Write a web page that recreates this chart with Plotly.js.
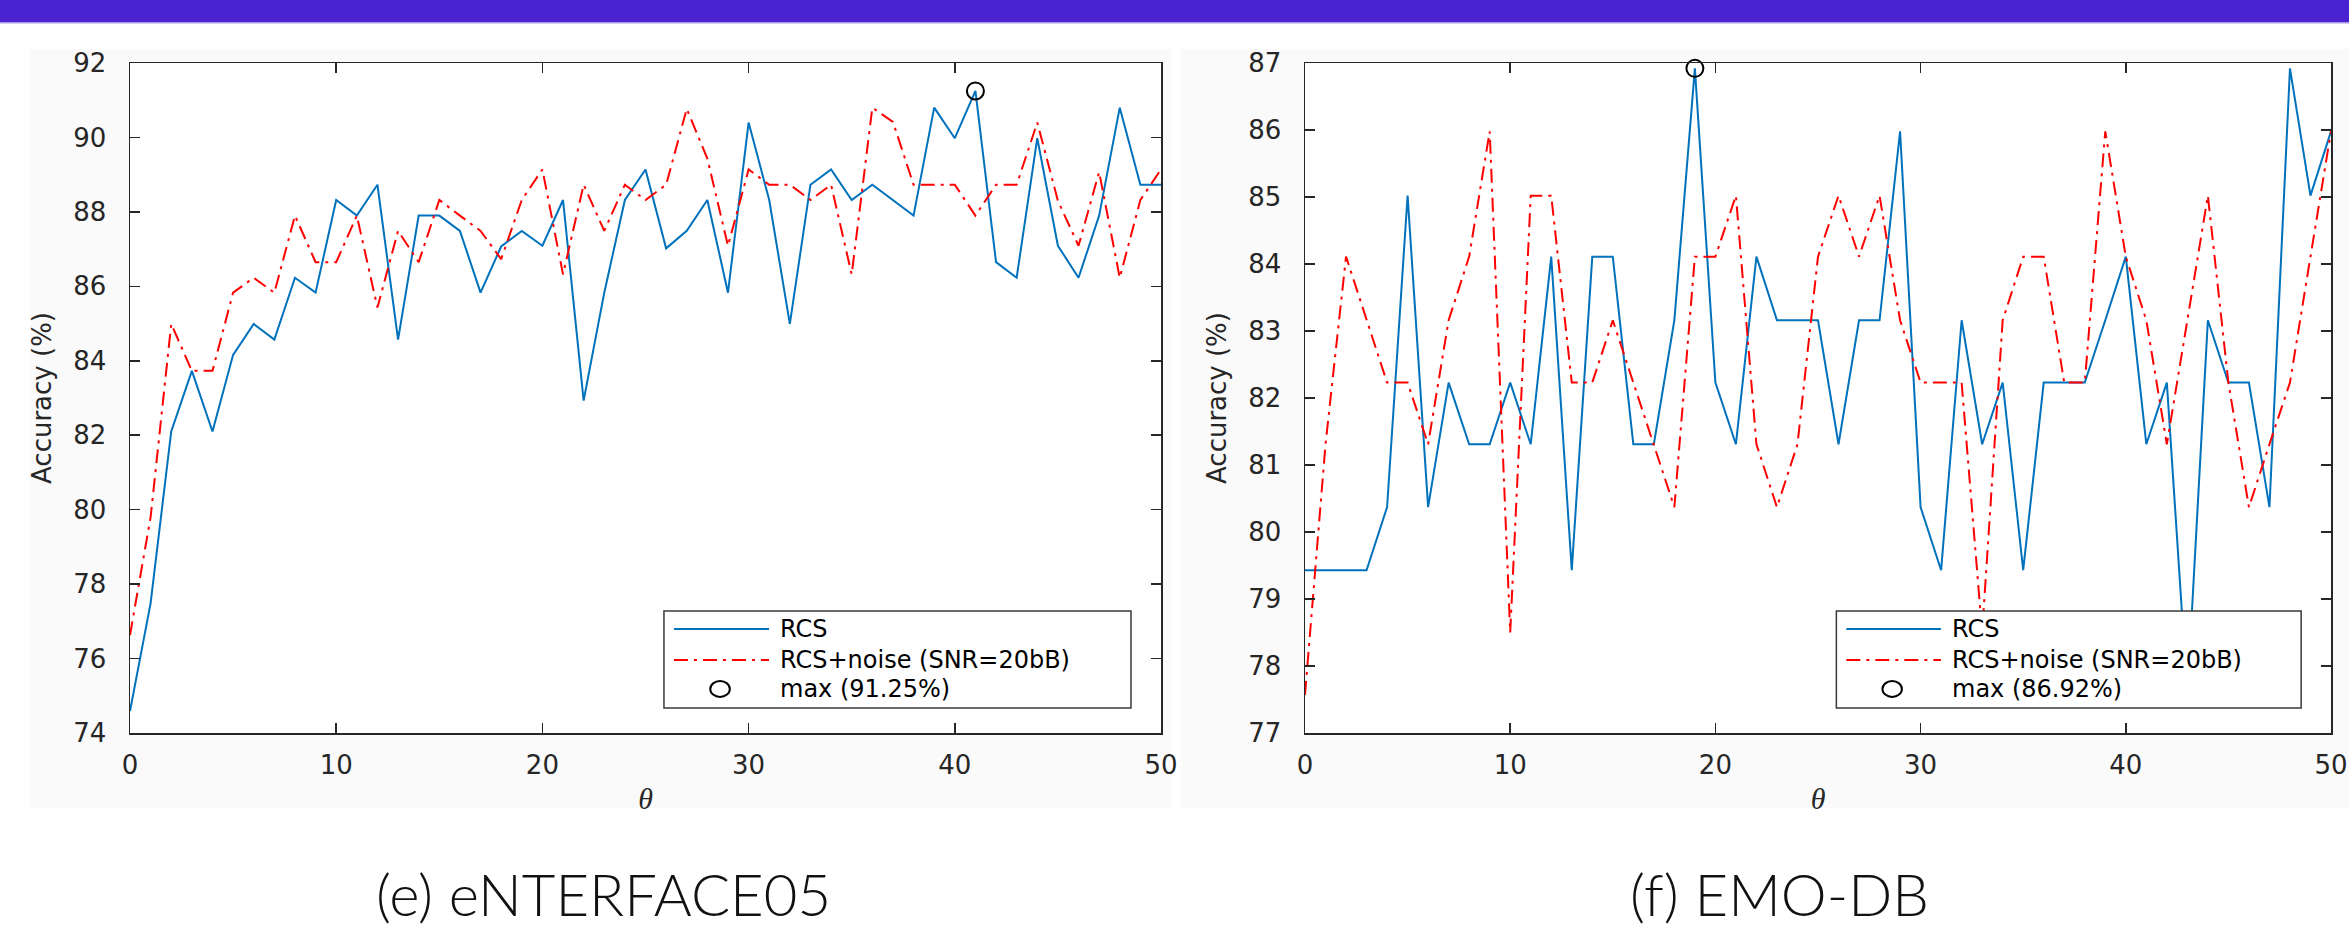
<!DOCTYPE html>
<html>
<head>
<meta charset="utf-8">
<script src="https://cdn.plot.ly/plotly-3.0.1.min.js"></script>
<style>
  html, body { margin: 0; padding: 0; background: #ffffff; }
  #chart { width: 2349px; height: 927px; }
</style>
</head>
<body>
<div id="chart"></div>
<script>
// ---------- data ----------
const theta = [0,1,2,3,4,5,6,7,8,9,10,11,12,13,14,15,16,17,18,19,20,21,22,23,24,25,26,27,28,29,30,31,32,33,34,35,36,37,38,39,40,41,42,43,44,45,46,47,48,49,50];

// (e) eNTERFACE05
const enterfaceRCS = [74.59,77.49,82.10,83.73,82.10,84.16,84.99,84.57,86.23,85.83,
  88.32,87.90,88.73,84.57,87.90,87.90,87.49,85.83,87.07,87.49,
  87.09,88.32,82.93,85.83,88.32,89.14,87.02,87.49,88.32,85.83,
  90.40,88.32,84.99,88.73,89.14,88.32,88.73,88.32,87.90,90.80,
  89.98,91.25,86.65,86.23,89.98,87.09,86.23,87.90,90.80,88.73,88.73];
const enterfaceNoise = [76.63,79.80,84.99,83.73,83.73,85.83,86.23,85.83,87.90,86.65,
  86.65,87.90,85.43,87.49,86.65,88.32,87.90,87.49,86.73,88.32,
  89.14,86.32,88.73,87.49,88.73,88.32,88.73,90.77,89.43,87.09,
  89.14,88.73,88.73,88.32,88.73,86.32,90.80,90.42,88.73,88.73,
  88.73,87.90,88.73,88.73,90.40,88.30,87.09,89.07,86.23,88.32,89.14];
const enterfaceMaxTheta = [41];
const enterfaceMaxAcc = [91.25];

// (f) EMO-DB
const emodbRCS = [79.43,79.43,79.43,79.43,80.37,85.02,80.37,82.23,81.31,81.31,
  82.23,81.31,84.11,79.43,84.11,84.11,81.31,81.31,83.16,86.92,
  82.23,81.31,84.11,83.16,83.16,83.16,81.31,83.16,83.16,85.98,
  80.37,79.43,83.16,81.31,82.23,79.43,82.23,82.23,82.23,83.16,
  84.11,81.31,82.23,77.57,83.16,82.23,82.23,80.37,86.92,85.02,85.98];
const emodbNoise = [77.57,81.31,84.11,83.16,82.23,82.23,81.31,83.16,84.11,85.98,
  78.50,85.02,85.02,82.23,82.23,83.16,82.23,81.31,80.37,84.11,
  84.11,85.02,81.31,80.37,81.31,84.11,85.02,84.11,85.02,83.16,
  82.23,82.23,82.23,78.50,83.16,84.11,84.11,82.23,82.23,85.98,
  84.11,83.16,81.31,83.16,85.02,82.23,80.37,81.31,82.23,84.11,85.98];
const emodbMaxTheta = [19];
const emodbMaxAcc = [86.92];

const xTickVals = [0,10,20,30,40,50];
const enterfaceYTicks = [74,76,78,80,82,84,86,88,90,92];
const emodbYTicks = [77,78,79,80,81,82,83,84,85,86,87];

const seriesNames = ['RCS', 'RCS+noise (SNR=20bB)'];
const maxLabels = ['max (91.25%)', 'max (86.92%)'];
const captions = ['(e) eNTERFACE05', '(f) EMO-DB'];

// ---------- styles ----------
const BLUE = '#0072BD';
const RED = '#FF0000';
const AXC = '#262626';
const DASHDOT = '14px,6px,3px,6px';
const SANS = 'DejaVu Sans, Liberation Sans, Arial, sans-serif';

function lineTrace(y, xa, ya, color, dash, name) {
  return { x: theta, y: y, xaxis: xa, yaxis: ya, type: 'scatter', mode: 'lines',
    name: name, line: { color: color, width: 2, dash: dash }, showlegend: false,
    hoverinfo: 'x+y' };
}
function maxTrace(x, y, xa, ya, name) {
  return { x: x, y: y, xaxis: xa, yaxis: ya, type: 'scatter', mode: 'markers',
    name: name, marker: { symbol: 'circle-open', size: 17, color: '#000000', line: { width: 2, color: '#000000' } },
    showlegend: false, cliponaxis: false };
}

const data = [
  lineTrace(enterfaceRCS, 'x', 'y', BLUE, 'solid', seriesNames[0]),
  lineTrace(enterfaceNoise, 'x', 'y', RED, DASHDOT, seriesNames[1]),
  maxTrace(enterfaceMaxTheta, enterfaceMaxAcc, 'x', 'y', maxLabels[0]),
  lineTrace(emodbRCS, 'x2', 'y2', BLUE, 'solid', seriesNames[0]),
  lineTrace(emodbNoise, 'x2', 'y2', RED, DASHDOT, seriesNames[1]),
  maxTrace(emodbMaxTheta, emodbMaxAcc, 'x2', 'y2', maxLabels[1])
];

function xAxis(domain, anchor) {
  return { domain: domain, anchor: anchor, range: [0, 50], tickvals: xTickVals,
    ticks: 'inside', ticklen: 10, tickwidth: 1.5, tickcolor: AXC,
    showline: true, linecolor: AXC, linewidth: 1.5, mirror: 'ticks',
    showgrid: false, zeroline: false, ticklabeloverflow: 'allow',
    tickfont: { family: SANS, size: 26, color: AXC },
    ticklabelstandoff: 8,
    title: { text: '<i>θ</i>', font: { family: 'Liberation Serif, DejaVu Serif, serif', size: 30, color: AXC }, standoff: 9 } };
}
function yAxis(range, ticks, anchor) {
  return { domain: [0, 1], anchor: anchor, range: range, tickvals: ticks,
    ticks: 'inside', ticklen: 10, tickwidth: 1.5, tickcolor: AXC,
    showline: true, linecolor: AXC, linewidth: 1.5, mirror: 'ticks',
    showgrid: false, zeroline: false, ticklabeloverflow: 'allow',
    tickfont: { family: SANS, size: 26, color: AXC },
    ticklabelstandoff: 17,
    title: { text: 'Accuracy (%)', font: { family: SANS, size: 26, color: AXC }, standoff: 14 } };
}

// legend geometry (fractions of each plot area)
const LG = { x0: 0.5179, x1: 0.9709, y0: 0.0373, y1: 0.1821,
  lx0: 0.5276, lx1: 0.6198, tx: 0.6282, ox: 0.5723,
  rows: [0.1552, 0.1090, 0.0657] };

function legendShapes(xr, yr) {
  return [
    { type: 'rect', xref: xr, yref: yr, x0: LG.x0, x1: LG.x1, y0: LG.y0, y1: LG.y1,
      fillcolor: '#ffffff', line: { color: '#3a3a3a', width: 1.5 }, layer: 'above' },
    { type: 'line', xref: xr, yref: yr, x0: LG.lx0, x1: LG.lx1, y0: LG.rows[0], y1: LG.rows[0],
      line: { color: BLUE, width: 2 }, layer: 'above' },
    { type: 'line', xref: xr, yref: yr, x0: LG.lx0, x1: LG.lx1, y0: LG.rows[1], y1: LG.rows[1],
      line: { color: RED, width: 2, dash: DASHDOT }, layer: 'above' },
    { type: 'circle', xref: xr, yref: yr, x0: LG.ox - 0.0095, x1: LG.ox + 0.0095,
      y0: LG.rows[2] - 0.0118, y1: LG.rows[2] + 0.0118,
      line: { color: '#000000', width: 2 }, layer: 'above' }
  ];
}
function legendAnnots(xr, yr, maxLabel) {
  const texts = [seriesNames[0], seriesNames[1], maxLabel];
  return texts.map((t, i) => ({ xref: xr, yref: yr, x: LG.tx, y: LG.rows[i], text: t,
    showarrow: false, xanchor: 'left', yanchor: 'middle',
    font: { family: SANS, size: 24, color: '#000000' } }));
}

const W = 2349, H = 927, ML = 130, MR = 13, MT = 63, MB = 194;
const PW = W - ML - MR, PH = H - MT - MB;
const px = v => (v - ML) / PW;        // page pixel -> paper x
const py = v => (H - MB - v) / PH;    // page pixel -> paper y

const LEFT_DOMAIN = [px(130), px(1161)];
const RIGHT_DOMAIN = [px(1305), px(2331)];

const shapes = [
  // faint figure panels
  { type: 'rect', xref: 'paper', yref: 'paper', x0: px(30), x1: px(1172), y0: py(808), y1: py(49),
    fillcolor: '#fafafa', line: { width: 0 }, layer: 'below' },
  { type: 'rect', xref: 'paper', yref: 'paper', x0: px(1180), x1: px(W), y0: py(808), y1: py(49),
    fillcolor: '#fafafa', line: { width: 0 }, layer: 'below' },
  { type: 'rect', xref: 'paper', yref: 'paper', x0: LEFT_DOMAIN[0], x1: LEFT_DOMAIN[1], y0: 0, y1: 1,
    fillcolor: '#ffffff', line: { width: 0 }, layer: 'below' },
  { type: 'rect', xref: 'paper', yref: 'paper', x0: RIGHT_DOMAIN[0], x1: RIGHT_DOMAIN[1], y0: 0, y1: 1,
    fillcolor: '#ffffff', line: { width: 0 }, layer: 'below' },
  // top banner
  { type: 'rect', xref: 'paper', yref: 'paper', x0: px(0), x1: px(W), y0: py(22), y1: py(0),
    fillcolor: '#4A22D0', line: { width: 0 }, layer: 'above' },
  { type: 'rect', xref: 'paper', yref: 'paper', x0: px(0), x1: px(W), y0: py(23.5), y1: py(22),
    fillcolor: '#a698e8', line: { width: 0 }, layer: 'above' }
].concat(legendShapes('x domain', 'y domain'), legendShapes('x2 domain', 'y2 domain'));

const CAPFONT = { family: 'Lato, Noto Sans, sans-serif', size: 58, weight: 300, color: '#111111' };
const annotations = legendAnnots('x domain', 'y domain', maxLabels[0])
  .concat(legendAnnots('x2 domain', 'y2 domain', maxLabels[1]))
  .concat([
    { xref: 'paper', yref: 'paper', x: px(603), y: py(893), text: captions[0], showarrow: false,
      xanchor: 'center', yanchor: 'middle', font: CAPFONT },
    { xref: 'paper', yref: 'paper', x: px(1779), y: py(893), text: captions[1], showarrow: false,
      xanchor: 'center', yanchor: 'middle', font: CAPFONT }
  ]);

const layout = {
  width: W, height: H,
  margin: { l: ML, r: MR, t: MT, b: MB, pad: 0 },
  paper_bgcolor: '#ffffff', plot_bgcolor: '#ffffff',
  showlegend: false,
  font: { family: SANS, color: AXC },
  xaxis: xAxis(LEFT_DOMAIN, 'y'),
  yaxis: yAxis([74, 92], enterfaceYTicks, 'x'),
  xaxis2: xAxis(RIGHT_DOMAIN, 'y2'),
  yaxis2: yAxis([77, 87], emodbYTicks, 'x2'),
  shapes: shapes,
  annotations: annotations
};

Plotly.newPlot('chart', data, layout, { displayModeBar: false, staticPlot: true });
</script>
</body>
</html>
